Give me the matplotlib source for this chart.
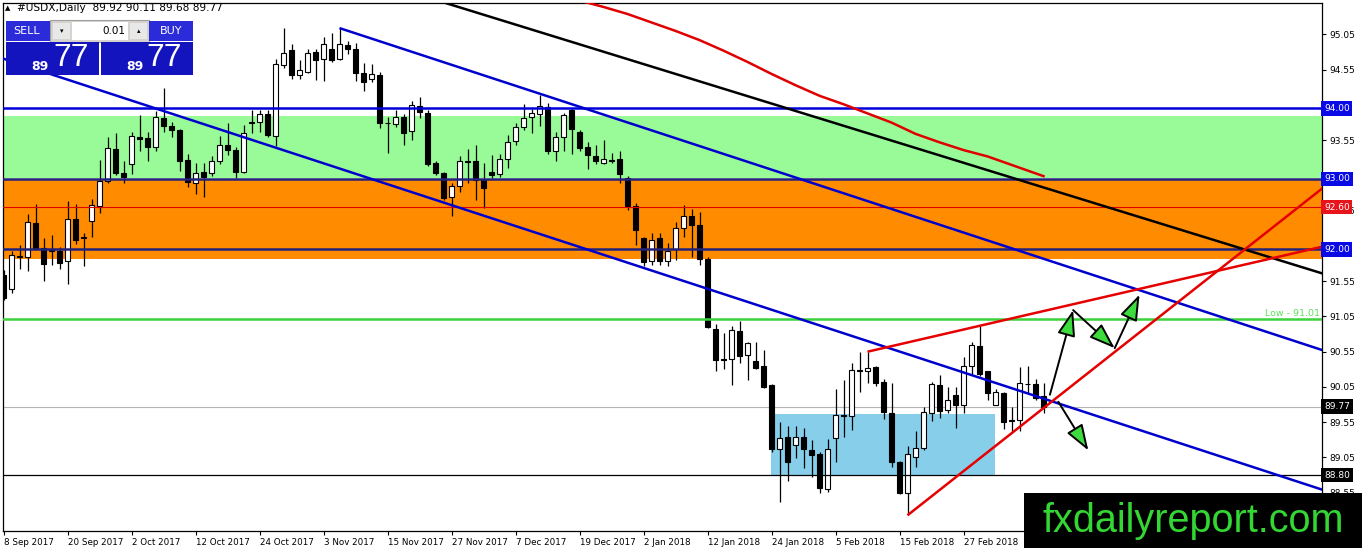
import matplotlib
matplotlib.use("Agg")
import matplotlib.pyplot as plt
from matplotlib.patches import Rectangle, FancyArrowPatch
from matplotlib.transforms import blended_transform_factory

# USDX daily candles, one entry per bar (bar 0 = 8 Sep 2017)
opens = [91.64, 91.44, 91.91, 91.89, 92.37, 92.02, 91.98, 91.98, 91.83, 92.43,
         92.17, 92.40, 92.62, 92.97, 93.43, 93.08, 93.21, 93.60, 93.58, 93.45,
         93.86, 93.75, 93.70, 93.27, 92.94, 93.10, 93.08, 93.25, 93.48, 93.41,
         93.10, 93.79, 93.81, 93.92, 93.61, 94.61, 94.83, 94.47, 94.52, 94.80,
         94.70, 94.85, 94.70, 94.90, 94.84, 94.51, 94.42, 94.48, 93.80, 93.78,
         93.88, 93.68, 94.04, 93.93, 93.22, 93.08, 92.75, 92.90, 93.25, 93.26,
         92.99, 93.10, 93.07, 93.28, 93.54, 93.74, 93.88, 93.92, 94.02, 93.39,
         93.60, 93.98, 93.67, 93.45, 93.32, 93.23, 93.26, 93.28, 93.02, 92.61,
         92.16, 91.83, 92.16, 91.84, 92.00, 92.31, 92.48, 92.35, 91.86, 90.87,
         90.44, 90.44, 90.84, 90.51, 90.42, 90.35, 90.08, 89.17, 89.34, 89.22,
         89.34, 89.16, 89.10, 88.60, 89.32, 89.65, 89.64, 90.29, 90.28, 90.34,
         90.12, 89.68, 88.98, 88.55, 89.06, 89.19, 89.68, 90.08, 89.72, 89.94,
         89.80, 90.35, 90.63, 90.27, 89.80, 89.97, 89.58, 89.58, 90.09, 90.09,
         89.92]
highs = [91.71, 91.98, 92.06, 92.51, 92.64, 92.16, 92.20, 92.04, 92.69, 92.64,
         92.24, 92.71, 93.27, 93.59, 93.65, 93.26, 93.66, 93.91, 93.67, 93.97,
         94.29, 93.81, 93.71, 93.35, 93.22, 93.22, 93.32, 93.61, 93.79, 93.46,
         93.77, 93.98, 93.98, 93.98, 94.70, 95.14, 94.91, 94.69, 94.84, 94.84,
         95.02, 95.07, 95.14, 94.95, 94.93, 94.64, 94.63, 94.52, 93.88, 93.98,
         93.92, 94.10, 94.16, 93.98, 93.25, 93.10, 92.94, 93.33, 93.42, 93.48,
         93.23, 93.34, 93.35, 93.63, 93.79, 94.07, 93.99, 94.19, 94.08, 93.67,
         93.94, 94.00, 93.70, 93.53, 93.48, 93.55, 93.37, 93.39, 93.04, 92.66,
         92.18, 92.24, 92.24, 92.09, 92.39, 92.63, 92.57, 92.53, 91.90, 90.95,
         90.81, 90.91, 90.98, 90.69, 90.69, 90.57, 90.09, 89.56, 89.50, 89.49,
         89.47, 89.30, 89.13, 89.31, 90.02, 90.15, 90.39, 90.55, 90.55, 90.35,
         90.16, 90.10, 89.00, 89.21, 89.43, 89.77, 90.12, 90.22, 90.05, 90.05,
         90.48, 90.69, 90.91, 90.28, 90.02, 89.98, 89.76, 90.34, 90.35, 90.17,
         90.11]
lows = [91.28, 91.38, 91.73, 91.69, 91.99, 91.56, 91.78, 91.73, 91.51, 92.08,
        91.76, 92.18, 92.52, 92.95, 93.05, 92.94, 93.07, 93.40, 93.26, 93.39,
        93.67, 93.60, 93.11, 92.88, 92.78, 92.74, 93.04, 93.21, 93.34, 93.02,
        93.08, 93.65, 93.67, 93.60, 93.47, 94.58, 94.42, 94.42, 94.50, 94.40,
        94.39, 94.66, 94.69, 94.77, 94.39, 94.25, 94.38, 93.73, 93.37, 93.74,
        93.48, 93.55, 93.86, 93.19, 93.05, 92.70, 92.48, 92.81, 92.95, 92.70,
        92.59, 93.02, 93.03, 93.15, 93.48, 93.70, 93.65, 93.75, 93.36, 93.26,
        93.39, 93.36, 93.40, 93.14, 93.21, 93.21, 93.22, 92.94, 92.56, 92.06,
        91.76, 91.78, 91.78, 91.76, 91.85, 92.18, 91.90, 91.78, 90.89, 90.27,
        90.31, 90.08, 90.39, 90.15, 90.31, 90.03, 89.13, 88.42, 88.72, 89.04,
        88.90, 88.78, 88.54, 88.56, 88.99, 89.34, 89.44, 89.98, 90.10, 90.06,
        89.59, 88.92, 88.53, 88.23, 88.92, 89.16, 89.57, 89.61, 89.68, 89.47,
        89.68, 90.22, 90.21, 89.87, 89.79, 89.46, 89.42, 89.43, 89.96, 89.87,
        89.68]
closes = [91.31, 91.92, 91.89, 92.39, 92.00, 91.80, 91.99, 91.81, 92.43, 92.13,
          92.16, 92.63, 92.97, 93.44, 93.08, 93.03, 93.61, 93.56, 93.46, 93.88,
          93.75, 93.70, 93.25, 92.96, 93.08, 93.03, 93.26, 93.48, 93.41, 93.10,
          93.65, 93.81, 93.92, 93.62, 94.63, 94.78, 94.47, 94.55, 94.79, 94.69,
          94.91, 94.69, 94.91, 94.85, 94.50, 94.37, 94.49, 93.79, 93.79, 93.88,
          93.65, 94.05, 93.95, 93.21, 93.09, 92.73, 92.90, 93.25, 93.24, 92.99,
          92.87, 93.05, 93.28, 93.53, 93.74, 93.87, 93.93, 94.03, 93.40, 93.60,
          93.91, 93.71, 93.44, 93.34, 93.25, 93.29, 93.26, 93.07, 92.62, 92.27,
          91.82, 92.14, 91.84, 91.98, 92.30, 92.48, 92.35, 91.87, 90.90, 90.43,
          90.43, 90.86, 90.49, 90.67, 90.32, 90.05, 89.17, 89.32, 88.99, 89.34,
          89.17, 89.09, 88.61, 89.17, 89.65, 89.64, 90.29, 90.27, 90.32, 90.10,
          89.69, 88.99, 88.54, 89.10, 89.18, 89.69, 90.09, 89.71, 89.87, 89.80,
          90.35, 90.65, 90.23, 89.96, 89.98, 89.56, 89.57, 90.10, 90.09, 89.89,
          89.77]

# time axis labels, one every 8 bars starting at bar 0
date_labels = ["8 Sep 2017", "20 Sep 2017", "2 Oct 2017", "12 Oct 2017",
               "24 Oct 2017", "3 Nov 2017", "15 Nov 2017", "27 Nov 2017",
               "7 Dec 2017", "19 Dec 2017", "2 Jan 2018", "12 Jan 2018",
               "24 Jan 2018", "5 Feb 2018", "15 Feb 2018", "27 Feb 2018"]
price_ticks = [88.55, 89.05, 89.55, 90.05, 90.55, 91.05, 91.55,
               92.05, 92.55, 93.05, 93.55, 94.05, 94.55, 95.05]
# tick labels that sit fully under a price tag are not visible
hidden_ticks = [92.05, 93.05, 94.05]

# moving average (red curve), read at some bars
ma_bars = [72, 75, 78, 81, 84, 87, 90, 93, 96, 99,
           102, 105, 108, 111, 114, 117, 120, 123, 126, 130]
ma_values = [95.53, 95.44, 95.34, 95.22, 95.10, 94.97, 94.82, 94.66, 94.49, 94.33,
             94.18, 94.06, 93.93, 93.80, 93.64, 93.52, 93.41, 93.32, 93.20, 93.04]

# price tags on the right scale
tag_prices = [94.00, 93.00, 92.60, 92.00, 89.77, 88.80]
tag_colors = ["#0A0AE6", "#0A0AE6", "#E8141C", "#0A0AE6", "black", "black"]

# drawn objects (bar, price)
green_zone = [93.02, 93.89]
orange_zone = [91.86, 92.99]
blue_box_bars = [95.9, 123.9]
blue_box_prices = [88.80, 89.67]
channel_top = [(42, 95.14), (166, 90.53)]
channel_bottom = [(-2, 94.78), (166, 88.55)]
black_line = [(50, 95.68), (166, 91.62)]
red_upper = [(108, 90.55), (166, 92.07)]
red_support = [(113, 88.23), (166, 92.97)]
arrows = [((130.8, 89.94), (133.7, 91.14)),
          ((133.7, 91.14), (138.9, 90.60)),
          ((138.9, 90.60), (142.0, 91.36)),
          ((131.85, 89.84), (135.6, 89.15))]

title_text = "#USDX,Daily  89.92 90.11 89.68 89.77"

W, H = 1362, 554


def fig_xy(x, y):
    """pixel position (from top-left) -> figure fraction"""
    return x / W, 1 - y / H


def fig_box(fig, x0, y0, x1, y1, color, z=10, ec="none"):
    fig.add_artist(Rectangle(fig_xy(x0, y1), (x1 - x0) / W, (y1 - y0) / H,
                             transform=fig.transFigure, facecolor=color,
                             edgecolor=ec, linewidth=0.8, zorder=z))


def main():
    fig = plt.figure(figsize=(W / 100, H / 100), dpi=100)
    ax = fig.add_axes([3 / W, 1 - 531 / H, 1319 / W, 528 / H])
    ax.set_xlim(-0.0625, 164.81)
    ax.set_ylim(88.007, 95.496)

    # zones
    ax.axhspan(green_zone[0], green_zone[1], color="#98FB98", lw=0, zorder=0)
    ax.axhspan(orange_zone[0], orange_zone[1], color="#FF8C00", lw=0, zorder=0)
    ax.add_patch(Rectangle((blue_box_bars[0], blue_box_prices[0]),
                           blue_box_bars[1] - blue_box_bars[0],
                           blue_box_prices[1] - blue_box_prices[0],
                           facecolor="#87CEEB", lw=0, zorder=0))

    # candles
    xs = list(range(len(opens)))
    ax.vlines(xs, lows, highs, color="black", lw=0.9, zorder=2)
    bottoms = [min(o, c) for o, c in zip(opens, closes)]
    heights = [max(abs(c - o), 0.008) for o, c in zip(opens, closes)]
    colors = ["white" if c >= o else "black" for o, c in zip(opens, closes)]
    ax.bar(xs, heights, bottom=bottoms, width=0.6, color=colors,
           edgecolor="black", linewidth=0.8, zorder=3)

    # horizontal levels
    ax.axhline(94.00, color="#0000DD", lw=1.8, zorder=4)
    ax.axhline(93.00, color="#22227A", lw=1.8, zorder=4)
    ax.axhline(92.00, color="#22227A", lw=1.8, zorder=4)
    ax.axhline(92.60, color="#E00000", lw=0.8, zorder=4)
    ax.axhline(91.01, color="#3CD23C", lw=1.8, zorder=4)
    ax.axhline(89.77, color="#B4B4B4", lw=0.8, zorder=1)
    ax.axhline(88.80, color="black", lw=0.9, zorder=4)
    ax.text(164.6, 91.03, "Low - 91.01", ha="right", va="bottom",
            color="#5EE05E", fontsize=6.8, zorder=5)

    # trend lines
    for line, col in [(channel_top, "#0000CD"), (channel_bottom, "#0000CD"),
                      (black_line, "black"), (red_upper, "#E60000"),
                      (red_support, "#E60000")]:
        ax.plot([p[0] for p in line], [p[1] for p in line], color=col,
                lw=1.8, zorder=5, solid_capstyle="butt")
    ax.plot(ma_bars, ma_values, color="#E00000", lw=1.8, zorder=5)

    for start, end in arrows:
        ax.add_patch(FancyArrowPatch(start, end,
                                     arrowstyle="-|>,head_length=0.8,head_width=0.28",
                                     mutation_scale=20, facecolor="#3EDB3E",
                                     edgecolor="black", lw=1.4, zorder=6,
                                     shrinkA=0, shrinkB=0))

    # axes look
    for sp in ax.spines.values():
        sp.set_color("black")
        sp.set_linewidth(0.9)
    ax.yaxis.tick_right()
    ax.set_yticks(price_ticks)
    ax.set_yticklabels(["" if p in hidden_ticks else f"{p:.2f}" for p in price_ticks])
    ax.set_xticks(range(0, 8 * len(date_labels), 8))
    ax.set_xticklabels(date_labels)
    for lbl in ax.get_xticklabels():
        lbl.set_ha("left")
    ax.tick_params(axis="y", length=3, width=0.8, pad=2, labelsize=6.5)
    ax.tick_params(axis="x", length=3, width=0.8, pad=2, labelsize=6.3)

    trans = blended_transform_factory(ax.transAxes, ax.transData)
    for price, col in zip(tag_prices, tag_colors):
        ax.text(1.0015, price, f"{price:.2f}", transform=trans, ha="left",
                va="center", color="white", fontsize=6.5, clip_on=False,
                zorder=8, bbox=dict(boxstyle="square,pad=0.3", fc=col, ec="none"))

    # header and one-click trading panel
    fig.text(*fig_xy(5, 8), "\u25B2", fontsize=5, va="center", zorder=11)
    fig.text(*fig_xy(17, 8), title_text, fontsize=7.6, va="center", zorder=11)
    fig_box(fig, 50, 20, 149, 42, "#D6D3CE", ec="#A0A0A0")
    fig_box(fig, 53, 23, 70, 39, "#E8E8E8", z=11)
    fig_box(fig, 72, 22, 128, 40, "white", z=11)
    fig_box(fig, 130, 23, 147, 39, "#E8E8E8", z=11)
    fig.text(*fig_xy(61.5, 31), "\u25BE", fontsize=5, ha="center", va="center", zorder=12)
    fig.text(*fig_xy(138.5, 31), "\u25B4", fontsize=5, ha="center", va="center", zorder=12)
    fig.text(*fig_xy(125, 31), "0.01", fontsize=7.5, ha="right", va="center", zorder=12)
    fig_box(fig, 6, 21, 50, 41, "#2B2BD9")
    fig_box(fig, 149, 21, 193, 41, "#2B2BD9")
    fig.text(*fig_xy(27, 31), "SELL", color="white", fontsize=8, ha="center",
             va="center", zorder=12)
    fig.text(*fig_xy(171, 31), "BUY", color="white", fontsize=8, ha="center",
             va="center", zorder=12)
    fig_box(fig, 6, 42, 99, 75, "#1414BE")
    fig_box(fig, 101, 42, 193, 75, "#1414BE")
    for x89, x77 in [(40, 71), (135, 164)]:
        fig.text(*fig_xy(x89, 66), "89", color="white", fontsize=9,
                 ha="center", va="center", zorder=12, fontweight="bold")
        fig.text(*fig_xy(x77, 58), "77", color="white", fontsize=23,
                 ha="center", va="center", zorder=12, family="Liberation Sans")

    # watermark
    fig_box(fig, 1024, 493, 1362, 548, "black", z=12)
    fig.text(*fig_xy(1193, 521), "fxdailyreport.com", color="#33D633",
             fontsize=28.5, ha="center", va="center", zorder=13,
             family="Liberation Sans")

    fig.savefig("out.png", dpi=100)


if __name__ == "__main__":
    main()
